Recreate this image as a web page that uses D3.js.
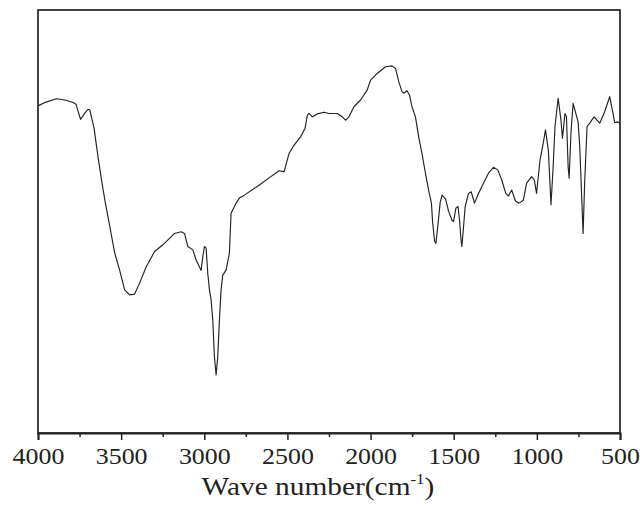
<!DOCTYPE html>
<html>
<head>
<meta charset="utf-8">
<script src="https://cdn.jsdelivr.net/npm/d3@7"></script>
<style>
  body { margin: 0; background: #fff; }
  svg { display: block; }
  .tick text { font-family: "Liberation Serif", "Times New Roman", serif; }
</style>
</head>
<body>
<div id="chart"></div>
<script>
// FTIR spectrum
var wavenumber = [4000, 3952, 3888, 3838, 3788, 3772, 3744, 3718, 3699, 3688,
	3663, 3639, 3618, 3598, 3568, 3539, 3509, 3479, 3449, 3419,
	3389, 3349, 3299, 3249, 3179, 3139, 3119, 3099, 3069, 3049,
	3019, 3009, 2999, 2989, 2979, 2969, 2959, 2949, 2939, 2929,
	2919, 2909, 2899, 2889, 2869, 2849, 2839, 2809, 2789, 2759,
	2669, 2610, 2550, 2520, 2509, 2490, 2460, 2420, 2394, 2380,
	2370, 2350, 2320, 2280, 2250, 2200, 2170, 2150, 2130, 2100,
	2060, 2020, 2000, 1960, 1910, 1871, 1850, 1830, 1811, 1800,
	1781, 1766, 1751, 1730, 1711, 1691, 1670, 1651, 1634, 1627,
	1615, 1607, 1595, 1581, 1570, 1549, 1531, 1511, 1501, 1487,
	1474, 1465, 1457, 1451, 1441, 1431, 1411, 1395, 1375, 1351,
	1321, 1291, 1261, 1235, 1211, 1187, 1171, 1151, 1129, 1107,
	1081, 1062, 1032, 1015, 1002, 981, 962, 948, 931, 915,
	902, 891, 872, 855, 846, 831, 822, 812, 806, 795,
	782, 752, 742, 722, 712, 698, 682, 656, 622, 592,
	562, 542, 532, 516, 500];

var transmittance = [77.7, 78.6, 79.4, 79.1, 78.5, 78.1, 74.5, 76.0, 76.9, 76.7,
	72.4, 65.6, 60.1, 55.3, 49.0, 42.8, 38.7, 34.0, 32.8, 33.0,
	35.6, 39.5, 43.1, 44.7, 47.4, 47.8, 47.4, 44.3, 43.5, 41.1,
	38.6, 41.9, 44.3, 43.9, 37.9, 34.0, 31.6, 26.8, 18.1, 13.8,
	18.1, 26.8, 34.0, 37.5, 38.7, 42.7, 52.2, 54.6, 55.8, 56.5,
	58.9, 60.6, 62.3, 62.1, 63.7, 66.4, 68.4, 70.4, 72.4, 75.5,
	75.9, 75.1, 75.8, 76.2, 75.9, 75.9, 75.1, 74.3, 75.1, 77.5,
	79.1, 81.5, 83.8, 85.4, 87.0, 87.2, 86.6, 83.4, 81.1, 80.7,
	81.3, 80.3, 77.5, 75.1, 70.4, 66.4, 61.7, 57.7, 54.6, 50.1,
	45.6, 45.0, 49.4, 54.9, 56.5, 55.6, 52.7, 50.6, 50.2, 53.4,
	53.8, 50.6, 46.3, 44.3, 48.9, 53.8, 56.9, 57.3, 54.6, 56.9,
	59.3, 61.7, 63.1, 62.5, 60.1, 56.9, 56.3, 57.7, 55.1, 54.6,
	55.3, 59.3, 60.9, 60.1, 56.9, 64.8, 68.8, 72.0, 67.2, 54.2,
	63.3, 72.8, 79.5, 74.3, 70.0, 75.9, 75.1, 63.3, 60.5, 71.2,
	78.3, 73.9, 68.0, 47.4, 60.1, 72.8, 73.6, 75.1, 73.6, 76.3,
	79.9, 75.9, 73.7, 73.9, 73.6];

var majorTicks = [4000, 3500, 3000, 2500, 2000, 1500, 1000, 500];
var minorTicks = [3750, 3250, 2750, 2250, 1750, 1250, 750];

var width = 640, height = 510;
var m = { left: 38, right: 20, top: 10, bottom: 77 };
var plotW = width - m.left - m.right;
var plotH = height - m.top - m.bottom;

var svg = d3.select("#chart").append("svg")
	.attr("width", width)
	.attr("height", height);

var x = d3.scaleLinear()
	.domain([4000, 500])
	.range([m.left, m.left + plotW]);

var y = d3.scaleLinear()
	.domain([0, 100])
	.range([m.top + plotH, m.top + 2]);

var points = wavenumber.map(function(w, i) { return [w, transmittance[i]]; });

var line = d3.line()
	.x(function(d) { return x(d[0]); })
	.y(function(d) { return y(d[1]); });

svg.append("path")
	.datum(points)
	.attr("fill", "none")
	.attr("stroke", "#222")
	.attr("stroke-width", 1.15)
	.attr("stroke-linejoin", "round")
	.attr("d", line);

// frame (left, top, right)
svg.append("rect")
	.attr("x", m.left)
	.attr("y", m.top)
	.attr("width", plotW)
	.attr("height", plotH)
	.attr("fill", "none")
	.attr("stroke", "#222")
	.attr("stroke-width", 1.7);

// minor ticks
svg.append("g")
	.attr("transform", "translate(0," + (m.top + plotH) + ")")
	.call(d3.axisBottom(x).tickValues(minorTicks).tickSize(4).tickFormat(""))
	.call(function(g) { g.select(".domain").remove(); })
	.selectAll("line").attr("stroke", "#222").attr("stroke-width", 1.5);

// major ticks + labels
var xAxis = svg.append("g")
	.attr("transform", "translate(0," + (m.top + plotH) + ")")
	.call(d3.axisBottom(x).tickValues(majorTicks).tickSize(7).tickPadding(9).tickFormat(d3.format("d")));

xAxis.select(".domain")
	.attr("stroke", "#222")
	.attr("stroke-width", 2);
xAxis.selectAll(".tick line")
	.attr("stroke", "#222")
	.attr("stroke-width", 1.5);
xAxis.selectAll(".tick text")
	.attr("font-size", 24)
	.attr("fill", "#222")
	.attr("dy", "0.64em")
	.attr("transform", "scale(1.08,1)");

// axis title
var title = svg.append("text")
	.attr("transform", "translate(318,495) scale(1.13,1)")
	.attr("text-anchor", "middle")
	.attr("font-family", "'Liberation Serif', 'Times New Roman', serif")
	.attr("font-size", 26)
	.attr("fill", "#222");
title.append("tspan").text("Wave number(cm");
title.append("tspan").attr("font-size", 15).attr("dy", -11).text("-1");
title.append("tspan").attr("dy", 11).text(")");
</script>
</body>
</html>
